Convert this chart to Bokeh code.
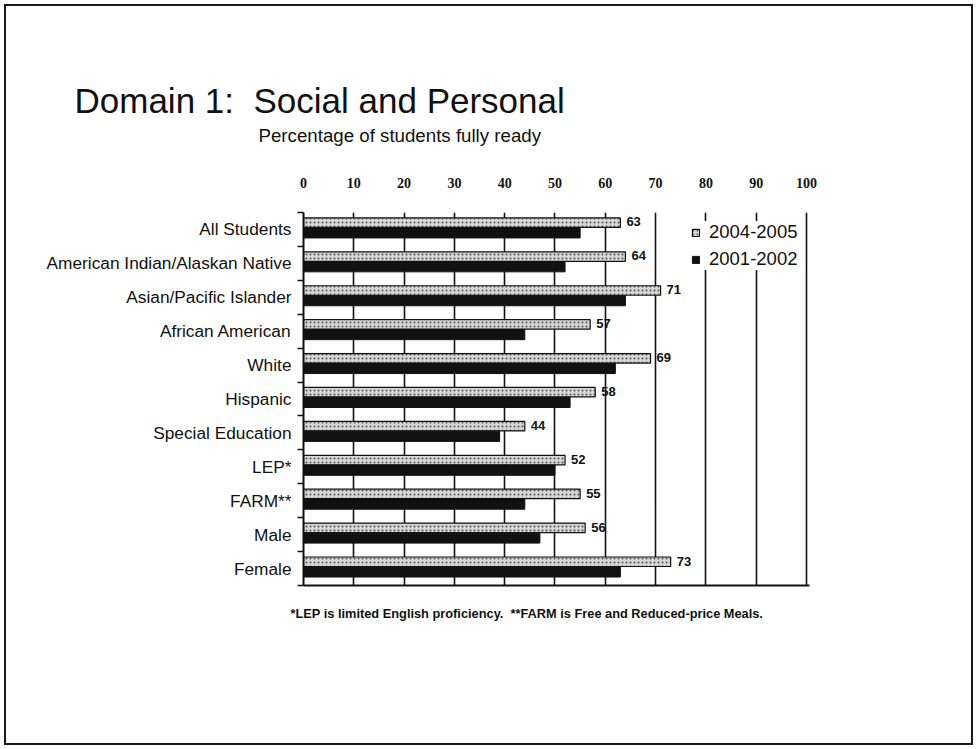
from bokeh.plotting import figure
from bokeh.models import (ColumnDataSource, FixedTicker, LinearAxis, Legend,
                          LegendItem, Range1d, Title)
from bokeh.transform import dodge
from bokeh.core.properties import value
from bokeh.embed import file_html
from bokeh.resources import INLINE

# ---------------- data ----------------
categories = ["All Students", "American Indian/Alaskan Native", "Asian/Pacific Islander",
              "African American", "White", "Hispanic", "Special Education", "LEP*",
              "FARM**", "Male", "Female"]
y2004_2005 = [63, 64, 71, 57, 69, 58, 44, 52, 55, 56, 73]
y2001_2002 = [55, 52, 64, 44, 62, 53, 39, 50, 44, 47, 63]
x_ticks = [0, 10, 20, 30, 40, 50, 60, 70, 80, 90, 100]
series_names = ["2004-2005", "2001-2002"]

title_text = "Domain 1: \u00a0Social and Personal"
subtitle_text = "Percentage of students fully ready"
footnote_text = "*LEP is limited English proficiency. \u00a0**FARM is Free and Reduced-price Meals."

n = len(categories)
ypos = [n - i - 0.5 for i in range(n)]  # All Students on top

src = ColumnDataSource(dict(cat=categories, y=ypos, v04=y2004_2005, v01=y2001_2002,
                            lbl=[str(v) for v in y2004_2005]))

W, H = 977, 749
FL, FT, FB = 303, 212, 585          # frame edges on the page
PX = 5.03                            # pixels per percentage point
XMAX = 100.6
FR = FL + XMAX * PX
p = figure(width=W, height=H, output_backend="svg", toolbar_location=None,
           x_range=Range1d(0, XMAX), y_range=Range1d(0, n),
           x_axis_location="above",
           min_border_left=FL, min_border_right=int(round(W - FR)),
           min_border_top=FT, min_border_bottom=H - FB)
p.outline_line_color = None
p.background_fill_color = "white"
p.border_fill_color = "white"
p.border_fill_alpha = 0
p.styles = {"background": "white",
            "box-shadow": "inset 0 0 0 4px white, inset 0 0 0 6px #1a1a1a"}

# grid
p.ygrid.grid_line_color = None
p.xgrid.ticker = FixedTicker(ticks=x_ticks)
p.xgrid.grid_line_color = "#111111"
p.xgrid.grid_line_width = 1.6

# top axis (tick labels only)
xa = p.xaxis[0]
xa.ticker = FixedTicker(ticks=x_ticks)
xa.axis_line_color = None
xa.major_tick_line_color = None
xa.major_tick_out = 0
xa.major_tick_in = 0
xa.minor_tick_line_color = None
xa.major_label_text_font = "Liberation Serif"
xa.major_label_text_font_style = "bold"
xa.major_label_text_font_size = "14px"
xa.major_label_text_color = "#111111"
xa.major_label_standoff = 25

# bottom axis line
bx = LinearAxis(ticker=FixedTicker(ticks=[]))
bx.axis_line_color = "#111111"
bx.axis_line_width = 2
bx.major_tick_line_color = None
bx.major_tick_out = 0
bx.major_tick_in = 0
bx.minor_tick_line_color = None
bx.major_label_standoff = 0
bx.major_label_text_font_size = "0px"
p.add_layout(bx, "below")

# left axis: labels at category centres, ticks at boundaries
ya = p.yaxis[0]
ya.ticker = FixedTicker(ticks=ypos, minor_ticks=list(range(0, n + 1)))
ya.major_label_overrides = {y: c for y, c in zip(ypos, categories)}
ya.major_tick_out = 0
ya.major_tick_in = 0
ya.minor_tick_out = 6
ya.minor_tick_in = 0
ya.minor_tick_line_color = "#111111"
ya.minor_tick_line_width = 1.5
ya.axis_line_color = "#111111"
ya.axis_line_width = 2
ya.major_label_text_font = "Liberation Sans"
ya.major_label_text_font_size = "17.3px"
ya.major_label_text_color = "#111111"
ya.major_label_standoff = 6

# bars
r04 = p.hbar(y=dodge("y", 0.2, range=p.y_range), right="v04", left=0, height=0.28,
             source=src, fill_color="#d6d6d6", line_color="#111111", line_width=1.2,
             hatch_pattern="dot", hatch_color="#555555", hatch_scale=4, hatch_weight=1)
r01 = p.hbar(y=dodge("y", -0.1, range=p.y_range), right="v01", left=0, height=0.3,
             source=src, fill_color="#111111", line_color="#111111")

p.text(x="v04", y=dodge("y", 0.22, range=p.y_range), text="lbl", source=src,
       x_offset=6, text_baseline="middle", text_align="left",
       text_font=value("Liberation Sans"), text_font_style="bold",
       text_font_size="13px", text_color="#111111")

legend = Legend(items=[LegendItem(label=series_names[0], renderers=[r04]),
                       LegendItem(label=series_names[1], renderers=[r01])],
                location=(388, 315))
legend.label_text_font = "Liberation Sans"
legend.label_text_font_size = "18.5px"
legend.label_text_color = "#111111"
legend.glyph_width = 9
legend.glyph_height = 9
legend.spacing = 5
legend.padding = 3
legend.margin = 0
legend.label_standoff = 9
legend.border_line_color = None
legend.background_fill_color = "white"
legend.background_fill_alpha = 1
p.add_layout(legend, "center")

# titles (above panel: first added sits nearest the frame)
spacer = Title(text=" ", text_font_size="1px", standoff=26)
subtitle = Title(text=subtitle_text, align="left", offset=258 - FL,
                 vertical_align="bottom", standoff=0,
                 text_font="Liberation Sans", text_font_size="18.7px",
                 text_font_style="normal", text_color="#111111")
title = Title(text=title_text, align="left", offset=74 - FL,
              vertical_align="bottom", standoff=6,
              text_font="Liberation Sans", text_font_size="35px",
              text_font_style="normal", text_color="#111111")
p.add_layout(spacer, "above")
p.add_layout(subtitle, "above")
p.add_layout(title, "above")

footnote = Title(text=footnote_text, align="left", offset=290 - FL,
                 vertical_align="top", standoff=40,
                 text_font="Liberation Sans", text_font_size="12.8px",
                 text_font_style="bold", text_color="#111111")
p.add_layout(footnote, "below")

open("out.html", "w").write(file_html(p, INLINE))
